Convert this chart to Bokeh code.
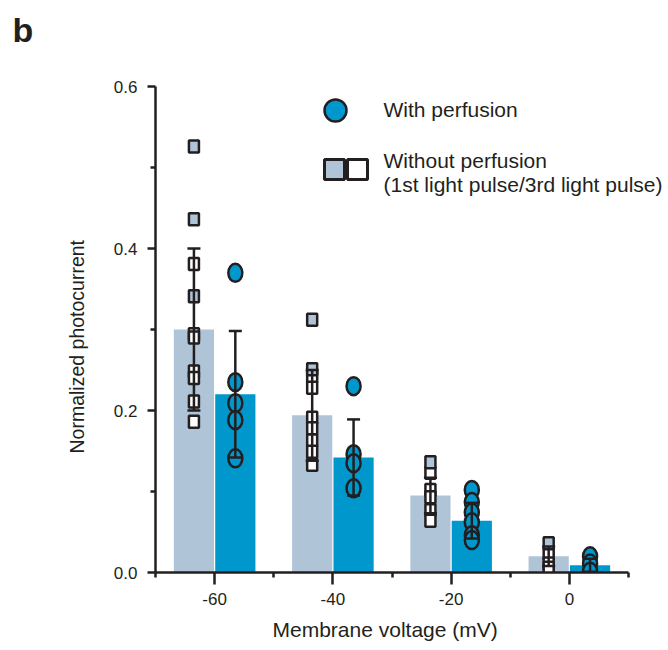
from bokeh.plotting import figure
from bokeh.models import (FixedTicker, Range1d, Whisker, ColumnDataSource, Label,
                          TeeHead, CustomJSTickFormatter, Title)
from bokeh.embed import file_html
from bokeh.resources import INLINE
import numpy as np

# Membrane voltages (mV) and group means / SD of normalized photocurrent
voltages = [-60, -40, -20, 0]
mean_without = [0.300, 0.194, 0.095, 0.020]
sd_without = [0.100, 0.056, 0.022, 0.012]
mean_with = [0.220, 0.142, 0.064, 0.009]
sd_with = [0.078, 0.047, 0.022, 0.008]

# Individual cells without perfusion: 1st light pulse (filled squares)
pulse1_v = [-60, -60, -60, -40, -40, -20, 0]
pulse1_y = [0.526, 0.436, 0.341, 0.312, 0.251, 0.136, 0.036]
# ... and 3rd light pulse (open squares)
pulse3_v = [-60, -60, -60, -60, -60, -60, -60,
            -40, -40, -40, -40, -40, -40, -40,
            -20, -20, -20, -20, -20,
            0, 0, 0]
pulse3_y = [0.381, 0.294, 0.290, 0.248, 0.240, 0.211, 0.186,
            0.242, 0.228, 0.191, 0.178, 0.163, 0.149, 0.133,
            0.123, 0.102, 0.093, 0.077, 0.064,
            0.023, 0.011, 0.006]
# Individual cells with perfusion
perf_v = [-60, -60, -60, -60, -60,
          -40, -40, -40, -40,
          -20, -20, -20, -20, -20, -20,
          0, 0, 0]
perf_y = [0.370, 0.235, 0.209, 0.188, 0.141,
          0.230, 0.146, 0.135, 0.104,
          0.102, 0.087, 0.074, 0.062, 0.046, 0.040,
          0.020, 0.011, 0.001]

x_ticks = [-60, -40, -20, 0]
x_minor = [-70, -50, -30, -10, 10]
y_ticks = [0.0, 0.2, 0.4, 0.6]
y_minor = [0.1, 0.3, 0.5]

LIGHT = "#b0c4d8"
BLUE = "#0098cc"
INK = "#231f20"
FONT = "Liberation Sans"
OFFSET = 3.5
BAR_W = 6.8

W, H = 668, 650
# frame edges in pixels; the x axis itself stops at AXIS_RIGHT
LEFT, AXIS_RIGHT, TOP, BOTTOM = 155, 628, 86, 572
X_AXIS = (-70, 10)
Y_AXIS = (0.0, 0.6)
PX_PER_X = (AXIS_RIGHT - LEFT) / (X_AXIS[1] - X_AXIS[0])
XR = (X_AXIS[0], X_AXIS[1] + (W - AXIS_RIGHT) / PX_PER_X)
YR = Y_AXIS

def to_data(px, py):
    x = XR[0] + (px - LEFT) / PX_PER_X
    y = YR[0] + (BOTTOM - py) / (BOTTOM - TOP) * (YR[1] - YR[0])
    return x, y

p = figure(width=W, height=H, output_backend="svg", toolbar_location=None,
           x_range=Range1d(*XR), y_range=Range1d(*YR),
           min_border_left=LEFT, min_border_right=0,
           min_border_top=TOP, min_border_bottom=H - BOTTOM)
p.outline_line_color = None
p.xgrid.visible = False
p.ygrid.visible = False

# panel letter (second, empty line keeps the letter high in the top margin)
p.title.text = "b\n"
p.title.align = "left"
p.title.offset = -(LEFT - 12)
p.title.standoff = 0
p.title.text_font = FONT
p.title.text_font_size = "34px"
p.title.text_font_style = "bold"
p.title.text_color = INK

v = np.array(voltages, dtype=float)
p.vbar(x=v - OFFSET, top=mean_without, width=BAR_W, bottom=0,
       fill_color=LIGHT, line_color=None)
p.vbar(x=v + OFFSET, top=mean_with, width=BAR_W, bottom=0,
       fill_color=BLUE, line_color=None)

# individual points
p.rect(x=np.array(pulse3_v, float) - OFFSET, y=pulse3_y, width=10, height=12,
       width_units="screen", height_units="screen",
       fill_color="white", line_color=INK, line_width=2.5)
p.rect(x=np.array(pulse1_v, float) - OFFSET, y=pulse1_y, width=10, height=12,
       width_units="screen", height_units="screen",
       fill_color=LIGHT, line_color=INK, line_width=2.5)
p.ellipse(x=np.array(perf_v, float) + OFFSET, y=perf_y, width=14, height=18,
          width_units="screen", height_units="screen",
          fill_color=BLUE, line_color=INK, line_width=2.5)

# error bars (mean +/- SD)
def add_err(xs, means, sds):
    m = np.array(means)
    s = np.array(sds)
    src = ColumnDataSource(dict(x=xs, lo=m - s, hi=m + s))
    wk = Whisker(base="x", lower="lo", upper="hi", source=src,
                 line_color=INK, line_width=2.5, level="overlay",
                 upper_head=TeeHead(size=13, line_color=INK, line_width=2.5),
                 lower_head=TeeHead(size=13, line_color=INK, line_width=2.5))
    p.add_layout(wk)

add_err(v - OFFSET, mean_without, sd_without)
add_err(v + OFFSET, mean_with, sd_with)

# axes
for ax in (p.xaxis[0], p.yaxis[0]):
    ax.axis_line_color = INK
    ax.axis_line_width = 2.5
    ax.major_tick_line_color = INK
    ax.major_tick_line_width = 2.5
    ax.minor_tick_line_color = INK
    ax.minor_tick_line_width = 2.5
    ax.major_tick_in = 0
    ax.minor_tick_in = 0
    ax.major_label_text_font = FONT
    ax.major_label_text_font_size = "17px"
    ax.major_label_text_color = INK

p.xaxis.bounds = X_AXIS
p.xaxis.ticker = FixedTicker(ticks=x_ticks, minor_ticks=x_minor)
p.xaxis.formatter = CustomJSTickFormatter(code="return tick.toString();")
p.xaxis.major_tick_out = 12
p.xaxis.minor_tick_out = 5
p.xaxis.major_label_standoff = 8

p.yaxis.ticker = FixedTicker(ticks=y_ticks, minor_ticks=y_minor)
p.yaxis.formatter = CustomJSTickFormatter(code="return tick.toFixed(1);")
p.yaxis.major_tick_out = 8
p.yaxis.minor_tick_out = 5
p.yaxis.major_label_standoff = 10

# axis titles, anchored at their starting edge
x_title = Title(text="Membrane voltage (mV)", align="left", offset=117,
                text_font=FONT, text_font_size="21px", text_font_style="normal",
                text_color=INK, standoff=17)
p.add_layout(x_title, "below")
y_title = Title(text="Normalized photocurrent", align="left", offset=119,
                text_font=FONT, text_font_size="19.5px", text_font_style="normal",
                text_color=INK, standoff=46)
p.add_layout(y_title, "left")

# legend
cx, cy = to_data(335, 110)
p.ellipse(x=[cx], y=[cy], width=22, height=22, width_units="screen",
          height_units="screen", fill_color=BLUE, line_color=INK, line_width=2.5)
s1x, s1y = to_data(334, 169)
s2x, s2y = to_data(357, 169)
p.rect(x=[s1x], y=[s1y], width=20, height=20, width_units="screen",
       height_units="screen", fill_color=LIGHT, line_color=INK, line_width=3)
p.rect(x=[s2x], y=[s2y], width=20, height=20, width_units="screen",
       height_units="screen", fill_color="white", line_color=INK, line_width=3)

def add_text(px, py, txt, size="21px"):
    x, y = to_data(px, py)
    p.add_layout(Label(x=x, y=y, text=txt, text_font=FONT, text_font_size=size,
                       text_color=INK, text_align="left", text_baseline="middle"))

add_text(383, 109, "With perfusion")
add_text(383, 160, "Without perfusion")
add_text(383, 184, "(1st light pulse/3rd light pulse)")

open("out.html", "w").write(file_html(p, INLINE))
